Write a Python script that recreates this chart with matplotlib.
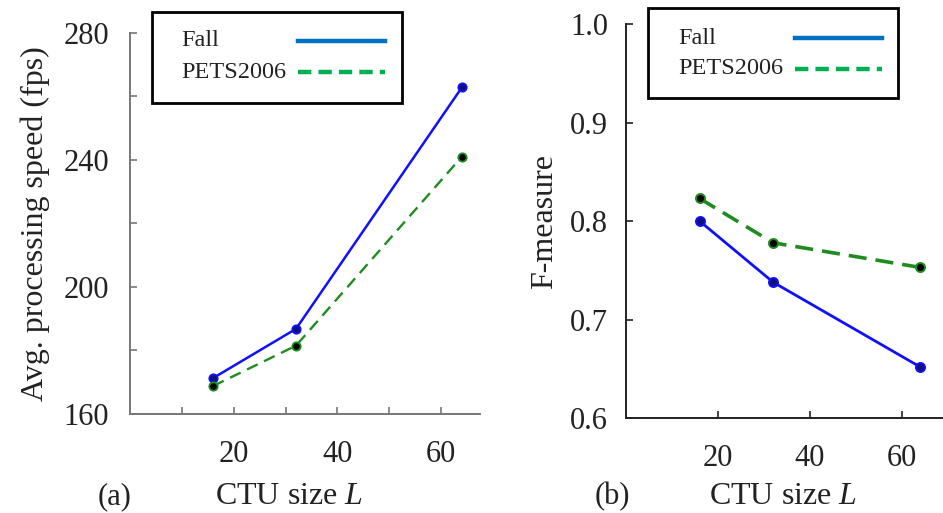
import matplotlib.pyplot as plt
from matplotlib.lines import Line2D
from matplotlib.patches import Rectangle
from matplotlib.ticker import FixedLocator, MultipleLocator

plt.rcParams['font.family'] = ['Liberation Serif', 'DejaVu Serif']
plt.rcParams['mathtext.fontset'] = 'custom'
plt.rcParams['mathtext.it'] = 'Liberation Serif:italic'

ctu_size = [16, 32, 64]
series_names = ["Fall", "PETS2006"]
speed_fall = [171.3, 186.8, 262.8]
speed_pets = [168.8, 181.5, 241.0]
fmeas_fall = [0.800, 0.738, 0.652]
fmeas_pets = [0.823, 0.778, 0.753]
x_ticks = [20, 40, 60]

plot_colors = {"Fall": "#1010ff", "PETS2006": "#1e8c1e"}
legend_colors = {"Fall": "#0070c0", "PETS2006": "#00b050"}

fig = plt.figure(figsize=(9.43, 5.13), dpi=100)
ax1 = fig.add_axes([0.138, 0.193, 0.371, 0.743])
ax2 = fig.add_axes([0.664, 0.185, 0.336, 0.768])


def style_axis(ax, spine_color, ylim, xmax, ymajor, yminor, xminor):
    for s in ("top", "right"):
        ax.spines[s].set_visible(False)
    for s in ("left", "bottom"):
        ax.spines[s].set_color(spine_color)
        ax.spines[s].set_linewidth(1.4)
    ax.set_xlim(0, xmax)
    ax.set_ylim(*ylim)
    ax.xaxis.set_major_locator(FixedLocator(x_ticks))
    ax.yaxis.set_major_locator(MultipleLocator(ymajor))
    if xminor:
        ax.xaxis.set_minor_locator(FixedLocator(xminor))
    if yminor:
        ax.yaxis.set_minor_locator(MultipleLocator(yminor))
    ax.tick_params(which="both", direction="in", color=spine_color, width=1.2)
    ax.tick_params(which="major", length=5, labelsize=22, colors="#222222")
    ax.tick_params(which="minor", length=5)
    ax.tick_params(axis="x", pad=19)
    ax.tick_params(axis="both", which="both", color=spine_color)


# (a) processing speed
ax1.plot(ctu_size, speed_fall, color=plot_colors["Fall"], lw=1.8,
         marker="o", ms=6, mfc="#10107a", mec=plot_colors["Fall"], mew=1.3)
ax1.plot(ctu_size, speed_pets, color=plot_colors["PETS2006"], lw=1.7,
         dashes=(5, 3), marker="o", ms=6, mfc="black",
         mec=plot_colors["PETS2006"], mew=1.3)
style_axis(ax1, "#777777", (160, 280), 67.5, 40, 20, [10, 30, 50])
ax1.tick_params(axis="y", pad=15)
ax1.set_ylabel("Avg. processing speed (fps)", fontsize=23, color="#222222",
               labelpad=10)

# (b) F-measure
ax2.plot(ctu_size, fmeas_fall, color=plot_colors["Fall"], lw=2.0,
         marker="o", ms=6.5, mfc="#10107a", mec=plot_colors["Fall"], mew=1.4)
ax2.plot(ctu_size, fmeas_pets, color=plot_colors["PETS2006"], lw=2.6,
         dashes=(5, 2.5), marker="o", ms=6.5, mfc="black",
         mec=plot_colors["PETS2006"], mew=1.4)
style_axis(ax2, "#222222", (0.6, 1.0), 69, 0.1, None, None)
ax2.yaxis.set_major_formatter(plt.FormatStrFormatter("%.1f"))
ax2.tick_params(axis="y", pad=13)
ax2.set_ylabel("F-measure", fontsize=23, color="#222222", labelpad=8)

# x labels and panel tags
fig.text(289 / 943, 1 - 497 / 513, "CTU size $\\mathit{L}$", fontsize=23,
         ha="center", va="center", color="#222222")
fig.text(115 / 943, 1 - 497 / 513, "(a)", fontsize=22, ha="center",
         va="center", color="#222222")
fig.text(783 / 943, 1 - 497 / 513, "CTU size $\\mathit{L}$", fontsize=23,
         ha="center", va="center", color="#222222")
fig.text(612 / 943, 1 - 497 / 513, "(b)", fontsize=22, ha="center",
         va="center", color="#222222")


# legends drawn as boxes in figure pixels
def draw_legend(x0, y0, w, h, text_x, line_x0, line_x1, rows):
    W, H = 943, 513
    fig.patches.append(Rectangle((x0 / W, 1 - (y0 + h) / H), w / W, h / H,
                                 transform=fig.transFigure, fill=False,
                                 ec="black", lw=2.0, zorder=5))
    for name, ry in zip(series_names, rows):
        fig.text(text_x / W, 1 - ry / H, name, fontsize=17.5, ha="left",
                 va="center", color="#222222")
        ls = "-" if name == "Fall" else (0, (3, 1.6))
        fig.lines.append(Line2D([line_x0 / W, line_x1 / W],
                                [1 - ry / H, 1 - ry / H],
                                transform=fig.transFigure,
                                color=legend_colors[name], lw=3.2, ls=ls))


draw_legend(152, 12, 250, 91, 181, 298, 385, (41, 72))
draw_legend(648, 8, 250, 90, 678, 795, 882, (38, 69))

fig.savefig("out.png", dpi=100)
